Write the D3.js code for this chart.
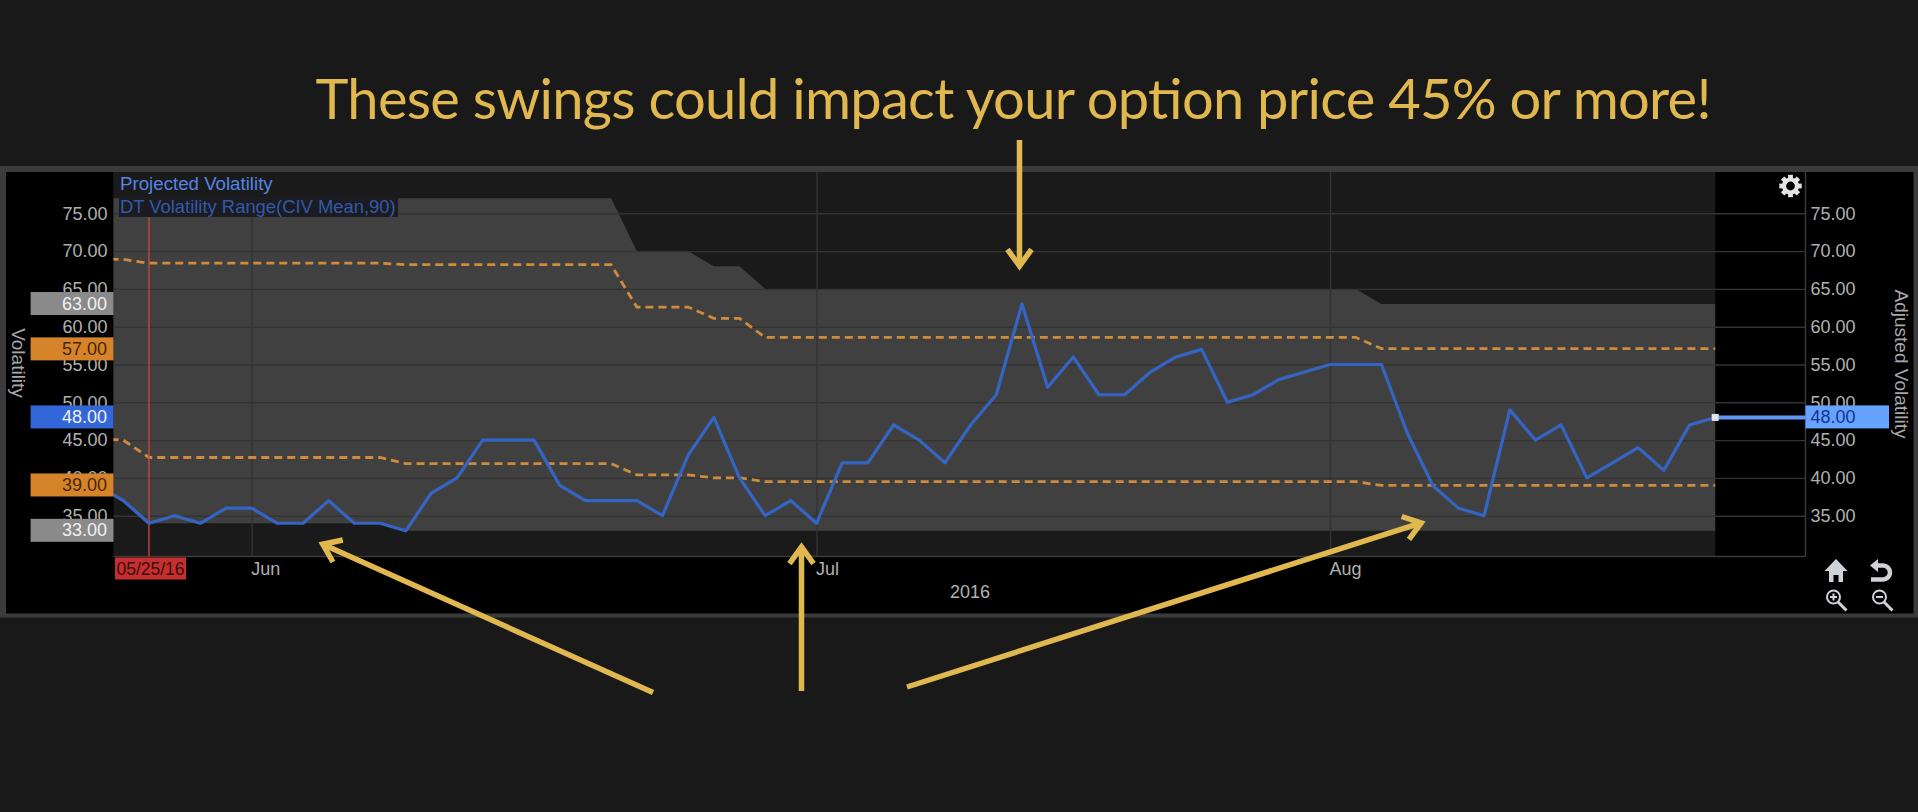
<!DOCTYPE html>
<html>
<head>
<meta charset="utf-8">
<script src="https://cdnjs.cloudflare.com/ajax/libs/d3/7.8.5/d3.min.js"></script>
<style>
  html, body { margin: 0; padding: 0; background: #191919; overflow: hidden; }
  svg { display: block; }
  text { font-family: "Liberation Sans", Arial, sans-serif; }
</style>
</head>
<body>
<div id="chart"></div>
<script>
// trading sessions shown on the chart (first one is cut off by the left edge)
const sessions = [
    "05/23/16","05/24/16","05/25/16","05/26/16","05/27/16","05/31/16",
    "06/01/16","06/02/16","06/03/16","06/06/16","06/07/16","06/08/16","06/09/16","06/10/16",
    "06/13/16","06/14/16","06/15/16","06/16/16","06/17/16","06/20/16","06/21/16","06/22/16",
    "06/23/16","06/24/16","06/27/16","06/28/16","06/29/16","06/30/16",
    "07/01/16","07/05/16","07/06/16","07/07/16","07/08/16","07/11/16","07/12/16","07/13/16",
    "07/14/16","07/15/16","07/18/16","07/19/16","07/20/16","07/21/16","07/22/16","07/25/16",
    "07/26/16","07/27/16","07/28/16","07/29/16",
    "08/01/16","08/02/16","08/03/16","08/04/16","08/05/16","08/08/16","08/09/16","08/10/16",
    "08/11/16","08/12/16","08/15/16","08/16/16","08/17/16","08/18/16","08/19/16","08/22/16"
];
const projected = [
    39,37,34,35,34,36,
    36,34,34,37,34,34,33,38,
    40,45,45,45,39,37,37,37,
    35,43,48,40,35,37,
    34,42,42,47,45,42,47,51,
    63,52,56,51,51,54,56,57,
    50,51,53,54,
    55,55,55,46,39,36,35,49,
    45,47,40,42,44,41,47,48
];
const rangeHigh = [
    77,77,77,77,77,77,
    77,77,77,77,77,77,77,77,
    77,77,77,77,77,77,77,70,
    70,70,68,68,65,65,
    65,65,65,65,65,65,65,65,
    65,65,65,65,65,65,65,65,
    65,65,65,65,
    65,65,63,63,63,63,63,63,
    63,63,63,63,63,63,63,63
];
const rangeLow = [
    39,37,34,34,34,34,
    34,34,34,34,34,34,33,33,
    33,33,33,33,33,33,33,33,
    33,33,33,33,33,33,
    33,33,33,33,33,33,33,33,
    33,33,33,33,33,33,33,33,
    33,33,33,33,
    33,33,33,33,33,33,33,33,
    33,33,33,33,33,33,33,33
];
const upperDash = [
    69,68.9,68.4,68.4,68.4,68.4,
    68.4,68.4,68.4,68.4,68.4,68.4,68.2,68.2,
    68.2,68.2,68.2,68.2,68.2,68.2,68.2,62.6,
    62.6,62.6,61.1,61.1,58.6,58.6,
    58.6,58.6,58.6,58.6,58.6,58.6,58.6,58.6,
    58.6,58.6,58.6,58.6,58.6,58.6,58.6,58.6,
    58.6,58.6,58.6,58.6,
    58.6,58.6,57.1,57.1,57.1,57.1,57.1,57.1,
    57.1,57.1,57.1,57.1,57.1,57.1,57.1,57.1
];
const lowerDash = [
    45.2,45,42.7,42.7,42.7,42.7,
    42.7,42.7,42.7,42.7,42.7,42.7,41.9,41.9,
    41.9,41.9,41.9,41.9,41.9,41.9,41.9,40.4,
    40.4,40.4,40,40,39.5,39.5,
    39.5,39.5,39.5,39.5,39.5,39.5,39.5,39.5,
    39.5,39.5,39.5,39.5,39.5,39.5,39.5,39.5,
    39.5,39.5,39.5,39.5,
    39.5,39.5,39,39,39,39,39,39,
    39,39,39,39,39,39,39,39
];
const yTicks = [75,70,65,60,55,50,45,40,35];
const monthTicks = ["06/01/16","07/01/16","08/01/16"];
const monthLabels = ["Jun","Jul","Aug"];
const cursorDate = "05/25/16";
const leftBadges = [
    {value: 63, fill: "#8a8a8a", color: "#f0f0f0"},
    {value: 57, fill: "#d6842a", color: "#4a2608"},
    {value: 48, fill: "#3367d8", color: "#f0f0f0"},
    {value: 39, fill: "#d6842a", color: "#4a2608"},
    {value: 33, fill: "#8a8a8a", color: "#f0f0f0"}
];

const width = 1918, height = 812;
const plotLeft = 113.5, plotRight = 1805.5, plotTop = 172, plotBottom = 556.5;
const dataEnd = 1715.2;
const gold = "#e0b84f";

const svg = d3.select("#chart")
    .append("svg")
    .attr("width", width)
    .attr("height", height);

const x = d3.scalePoint().domain(sessions).range([97.6, dataEnd]);
const y = d3.scaleLinear().domain([75, 35]).range([213.3, 515.7]);

svg.append("defs").append("clipPath").attr("id", "plot-clip")
    .append("rect")
    .attr("x", plotLeft).attr("y", plotTop)
    .attr("width", dataEnd - plotLeft + 1).attr("height", plotBottom - plotTop);

// frame + panel
svg.append("rect").attr("x", 0).attr("y", 166).attr("width", width).attr("height", 451.5).attr("fill", "#3b3b3b");
svg.append("rect").attr("x", 6).attr("y", 172).attr("width", 1907.5).attr("height", 441.5).attr("fill", "#000");
svg.append("rect").attr("x", plotLeft).attr("y", plotTop)
    .attr("width", dataEnd - plotLeft).attr("height", plotBottom - plotTop).attr("fill", "#1a1a1a");

// volatility range band
const area = d3.area()
    .x((d, i) => x(sessions[i]))
    .y0((d, i) => y(rangeLow[i]))
    .y1(d => y(d));

svg.append("path")
    .datum(rangeHigh)
    .attr("clip-path", "url(#plot-clip)")
    .attr("fill", "#404040")
    .attr("d", area);

// grid
const gridH = svg.append("g")
    .attr("transform", `translate(${plotLeft},0)`)
    .call(d3.axisLeft(y).tickValues(yTicks).tickSize(-(plotRight - plotLeft)).tickFormat(""));
gridH.select(".domain").remove();
gridH.selectAll("line").attr("stroke", "#333").attr("stroke-width", 1.4);

const gridV = svg.append("g")
    .attr("transform", `translate(0,${plotBottom})`)
    .call(d3.axisBottom(x).tickValues(monthTicks).tickSize(-(plotBottom - plotTop)).tickFormat(""));
gridV.select(".domain").remove();
gridV.selectAll("line").attr("stroke", "#333").attr("stroke-width", 1.4);

svg.append("line").attr("x1", plotLeft).attr("x2", plotRight).attr("y1", plotBottom).attr("y2", plotBottom)
    .attr("stroke", "#3a3a3a").attr("stroke-width", 1.5);
svg.append("line").attr("x1", plotRight).attr("x2", plotRight).attr("y1", plotTop).attr("y2", plotBottom)
    .attr("stroke", "#3a3a3a").attr("stroke-width", 1.5);

// legend boxes
svg.append("rect").attr("x", plotLeft).attr("y", plotTop).attr("width", 170).attr("height", 25).attr("fill", "#1a1a1a");
svg.append("rect").attr("x", 119).attr("y", 197).attr("width", 279).attr("height", 20).attr("fill", "#1a1c22");

// lines
const line = d3.line()
    .x((d, i) => x(sessions[i]))
    .y(d => y(d));

[upperDash, lowerDash].forEach(values => {
    svg.append("path")
        .datum(values)
        .attr("clip-path", "url(#plot-clip)")
        .attr("fill", "none")
        .attr("stroke", "#cf8c3c")
        .attr("stroke-width", 2.8)
        .attr("stroke-dasharray", "8,5")
        .attr("d", line);
});

svg.append("line")
    .attr("x1", x(cursorDate)).attr("x2", x(cursorDate))
    .attr("y1", 217).attr("y2", plotBottom)
    .attr("stroke", "#c4473c").attr("stroke-width", 1.4);

svg.append("path")
    .datum(projected)
    .attr("clip-path", "url(#plot-clip)")
    .attr("fill", "none")
    .attr("stroke", "#3565c4")
    .attr("stroke-width", 3.2)
    .attr("stroke-linejoin", "round")
    .attr("d", line);

// last value marker
const lastValue = projected[projected.length - 1];
svg.append("line")
    .attr("x1", dataEnd).attr("x2", plotRight)
    .attr("y1", y(lastValue)).attr("y2", y(lastValue))
    .attr("stroke", "#5f97f5").attr("stroke-width", 4);
svg.append("rect")
    .attr("x", dataEnd - 3.5).attr("y", y(lastValue) - 3.5)
    .attr("width", 7).attr("height", 7)
    .attr("fill", "#e2e2e2");

// axes
function styleAxis(g) {
    g.select(".domain").remove();
    g.selectAll("text").attr("fill", "#b0b0b0").style("font-size", "18px");
}

svg.append("g")
    .attr("transform", `translate(${plotLeft},0)`)
    .call(d3.axisLeft(y).tickValues(yTicks).tickSize(0).tickPadding(6).tickFormat(d3.format(".2f")))
    .call(styleAxis);

svg.append("g")
    .attr("transform", `translate(${plotRight},0)`)
    .call(d3.axisRight(y).tickValues(yTicks).tickSize(0).tickPadding(5).tickFormat(d3.format(".2f")))
    .call(styleAxis);

svg.append("g")
    .attr("transform", `translate(-1,${plotBottom})`)
    .call(d3.axisBottom(x).tickValues(monthTicks).tickSize(0).tickPadding(6)
        .tickFormat((d, i) => monthLabels[i]))
    .call(styleAxis)
    .selectAll("text")
    .attr("text-anchor", "start");

svg.append("text")
    .attr("x", 970).attr("y", 597.5)
    .attr("text-anchor", "middle")
    .attr("fill", "#b0b0b0")
    .style("font-size", "18px")
    .text("2016");

// value badges
leftBadges.forEach(b => {
    svg.append("rect")
        .attr("x", 30.6).attr("y", y(b.value) - 12)
        .attr("width", plotLeft - 30.6).attr("height", 23)
        .attr("fill", b.fill);
    svg.append("text")
        .attr("x", 107).attr("y", y(b.value) - 0.5)
        .attr("dy", "0.34em")
        .attr("text-anchor", "end")
        .attr("fill", b.color)
        .style("font-size", "18px")
        .text(d3.format(".2f")(b.value));
});

svg.append("rect")
    .attr("x", plotRight).attr("y", y(lastValue) - 12)
    .attr("width", 83.5).attr("height", 23)
    .attr("fill", "#66a3ff");
svg.append("text")
    .attr("x", 1810.5).attr("y", y(lastValue) - 0.5)
    .attr("dy", "0.34em")
    .attr("fill", "#14348c")
    .style("font-size", "18px")
    .text(d3.format(".2f")(lastValue));

svg.append("rect")
    .attr("x", 115).attr("y", 557.5)
    .attr("width", 71).attr("height", 22)
    .attr("fill", "#c62f2f");
svg.append("text")
    .attr("x", 150.5).attr("y", 574.5)
    .attr("text-anchor", "middle")
    .attr("fill", "#3a0c0c")
    .style("font-size", "17.5px")
    .text(cursorDate);

// axis titles
svg.append("text")
    .attr("transform", "translate(12,363) rotate(90)")
    .attr("text-anchor", "middle")
    .attr("fill", "#a8a8a8")
    .style("font-size", "19px")
    .text("Volatility");
svg.append("text")
    .attr("transform", "translate(1894.5,364) rotate(90)")
    .attr("text-anchor", "middle")
    .attr("fill", "#a8a8a8")
    .style("font-size", "19px")
    .text("Adjusted Volatility");

// legend
svg.append("text")
    .attr("x", 120).attr("y", 190)
    .attr("fill", "#5585e6")
    .style("font-size", "18.7px")
    .text("Projected Volatility");
svg.append("text")
    .attr("x", 120).attr("y", 213)
    .attr("fill", "#3459a8")
    .style("font-size", "18.4px")
    .text("DT Volatility Range(CIV Mean,90)");

// headline
svg.append("text")
    .attr("x", 315.5).attr("y", 119)
    .attr("fill", gold)
    .style("font-family", "Lato, sans-serif")
    .style("font-size", "56px")
    .attr("textLength", 1396)
    .text("These swings could impact your option price 45% or more!");

// callout arrows
function drawArrow(x1, y1, x2, y2) {
    const a = Math.atan2(y2 - y1, x2 - x1);
    const len = 23, spread = 0.55;
    const hx1 = x2 - len * Math.cos(a - spread), hy1 = y2 - len * Math.sin(a - spread);
    const hx2 = x2 - len * Math.cos(a + spread), hy2 = y2 - len * Math.sin(a + spread);
    svg.append("line")
        .attr("x1", x1).attr("y1", y1)
        .attr("x2", x2 - 3 * Math.cos(a)).attr("y2", y2 - 3 * Math.sin(a))
        .attr("stroke", gold).attr("stroke-width", 5.5);
    svg.append("path")
        .attr("d", `M${hx1},${hy1}L${x2 - 3 * Math.cos(a)},${y2 - 3 * Math.sin(a)}L${hx2},${hy2}`)
        .attr("fill", "none")
        .attr("stroke", gold)
        .attr("stroke-width", 5.5)
        .attr("stroke-linejoin", "miter");
}

drawArrow(1019.5, 140, 1019.5, 269);
drawArrow(801.5, 691, 801.5, 544);
drawArrow(653, 692.5, 320, 543);
drawArrow(907, 687, 1424, 522);

// toolbar icons
const gear = svg.append("g").attr("transform", "translate(1790.5,186)").attr("fill", "#e4e4e4");
gear.append("path").attr("d", d3.arc().innerRadius(4.4).outerRadius(8.6).startAngle(0).endAngle(2 * Math.PI)());
d3.range(8).forEach(i => {
    gear.append("rect")
        .attr("x", -2.4).attr("y", -11.2)
        .attr("width", 4.8).attr("height", 4.5)
        .attr("transform", `rotate(${i * 45})`);
});

const iconColor = "#cfd2d6";
svg.append("path")
    .attr("d", "M1836,559L1847.5,571L1843,571L1843,582L1838.5,582L1838.5,575L1833.5,575L1833.5,582L1829,582L1829,571L1824.5,571Z")
    .attr("fill", iconColor);
svg.append("path")
    .attr("d", "M1870,565.5L1878,559L1878,572Z")
    .attr("fill", iconColor);
svg.append("path")
    .attr("d", "M1876,565.5L1883,565.5A7,7 0 0 1 1883,579.5L1871,579.5")
    .attr("fill", "none")
    .attr("stroke", iconColor)
    .attr("stroke-width", 4.5);

[1833.5, 1879.5].forEach((cx, i) => {
    svg.append("circle")
        .attr("cx", cx).attr("cy", 597).attr("r", 6.5)
        .attr("fill", "none").attr("stroke", iconColor).attr("stroke-width", 2);
    svg.append("line")
        .attr("x1", cx + 4.5).attr("y1", 602).attr("x2", cx + 13).attr("y2", 610.5)
        .attr("stroke", iconColor).attr("stroke-width", 3);
    svg.append("line")
        .attr("x1", cx - 3.5).attr("y1", 597).attr("x2", cx + 3.5).attr("y2", 597)
        .attr("stroke", iconColor).attr("stroke-width", 2);
    if (i === 0) {
        svg.append("line")
            .attr("x1", cx).attr("y1", 593.5).attr("x2", cx).attr("y2", 600.5)
            .attr("stroke", iconColor).attr("stroke-width", 2);
    }
});
</script>
</body>
</html>
